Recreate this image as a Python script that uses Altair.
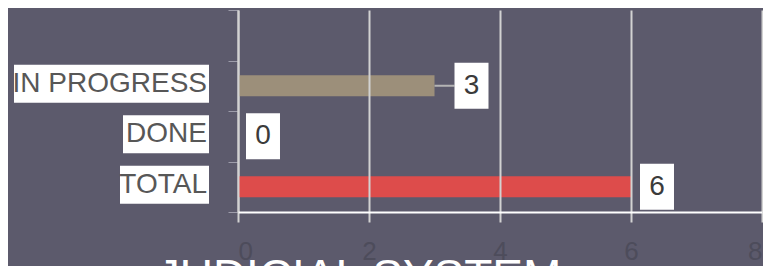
import altair as alt
import pandas as pd

# ---- data ----
categories = ["IN PROGRESS", "DONE", "TOTAL"]
values = [3, 0, 6]
bar_colors = ["#9c8f7a", "#6aa36f", "#dd4c4b"]
x_ticks = [0, 2, 4, 6, 8]
title_text = "JUDICIAL SYSTEM"

# ---- styling / layout ----
BG = "#5c5a6c"
FONT = "Liberation Sans"
label_box_w = {"IN PROGRESS": 195, "DONE": 86, "TOTAL": 89}
value_shift = {"IN PROGRESS": 37, "DONE": 25, "TOTAL": 26}
BOX_PATH = "M-0.739,-1H0.739V1H-0.739Z"

df = pd.DataFrame({"cat": categories, "v": values})
y_domain = [" "] + categories

yenc = alt.Y(
    "cat:N",
    scale=alt.Scale(domain=y_domain, paddingInner=0, paddingOuter=0),
    axis=alt.Axis(labels=False, title=None, tickBand="extent", tickSize=10,
                  tickColor="#9d9caa", tickWidth=1, domainColor="#cfcfcf",
                  domainWidth=2, grid=False),
)
xenc = alt.X(
    "v:Q",
    scale=alt.Scale(domain=[0, 8], nice=False),
    axis=alt.Axis(values=x_ticks, grid=True, gridColor="#d2d2d2", gridWidth=2,
                  tickColor="#d2d2d2", tickWidth=2, tickSize=10,
                  domainColor="#ffffff", domainWidth=2, labelFontSize=26,
                  labelColor="#4d4c5b", labelPadding=16, labelFont=FONT,
                  title=None, zindex=1),
)

base = alt.Chart(df)

bars = base.mark_bar(size=21).encode(
    x=xenc, y=yenc,
    color=alt.Color("cat:N", scale=alt.Scale(domain=categories, range=bar_colors), legend=None),
)

connector = base.transform_filter(alt.datum.cat == "IN PROGRESS").mark_rule(
    color="#b4b4b4", strokeWidth=2, x2Offset=20
).encode(x=xenc, x2=alt.X2("v"), y=yenc)

layers = [bars, connector]

for c in categories:
    sub = base.transform_filter(alt.datum.cat == c)
    s = value_shift[c]
    layers.append(sub.mark_point(shape=BOX_PATH, size=2116, filled=True, color="white",
                                 opacity=1, strokeWidth=0, xOffset=s).encode(x=xenc, y=yenc))
    layers.append(sub.mark_text(fontSize=28, color="#3b3b3b", font=FONT, xOffset=s)
                  .encode(x=xenc, y=yenc, text="v:Q"))
    w = label_box_w[c]
    layers.append(sub.mark_bar(size=38, color="white", yOffset=-2)
                  .encode(x=alt.value(-29 - w), x2=alt.value(-29), y=yenc))
    layers.append(sub.mark_text(align="right", fontSize=28, color="#575757", font=FONT, yOffset=-2)
                  .encode(x=alt.value(-31), y=yenc, text="cat:N"))

title = alt.Chart(pd.DataFrame({"t": [title_text]})).mark_text(
    fontSize=46, color="white", font=FONT, align="center", baseline="alphabetic"
).encode(x=alt.value(121), y=alt.value(282), text="t:N")
layers.append(title)

chart = alt.layer(*layers).properties(
    width=524, height=202,
    autosize=alt.AutoSizeParams(type="none"),
    padding={"left": 230, "top": 2, "right": 1, "bottom": 80},
    background=BG,
).configure_view(stroke=None)

chart.save("out.html", embed_options={"renderer": "svg", "actions": False})
